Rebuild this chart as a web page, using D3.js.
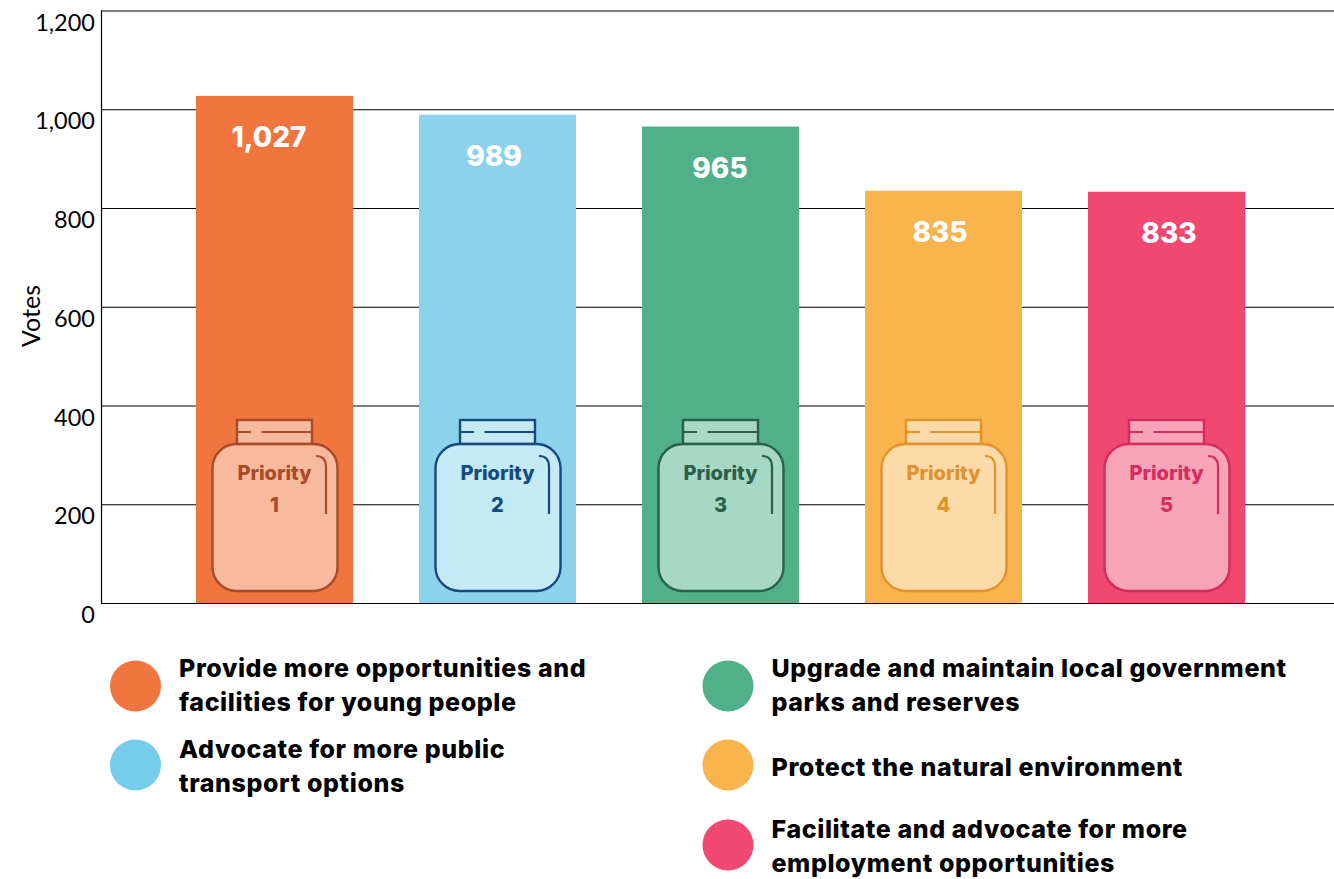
<!DOCTYPE html>
<html>
<head>
<meta charset="utf-8">
<script src="https://cdn.jsdelivr.net/npm/d3@7"></script>
<style>
    html, body { margin: 0; padding: 0; background: #fff; overflow: hidden; }
    text { font-family: "Inter", "Lato", sans-serif; fill: #000; }
    .domain { display: none; }
</style>
</head>
<body>
<svg id="chart" width="1334" height="879"></svg>
<script>
var priorities = ["1", "2", "3", "4", "5"];
var votes = [1027, 989, 965, 835, 833];
var bar_colors = ["#F1753E", "#8DD2EC", "#4FB08A", "#F9B44E", "#F04871"];
var jar_colors = ["#A94A28", "#134B7F", "#2A6049", "#E0922E", "#D42C5E"];
var y_ticks = [0, 200, 400, 600, 800, 1000, 1200];

var legend_colors = ["#F1753E", "#75CCEB", "#4FB08A", "#F9B44E", "#F04871"];
var legend_lines = [
    ["Provide more opportunities and", "facilities for young people"],
    ["Advocate for more public", "transport options"],
    ["Upgrade and maintain local government", "parks and reserves"],
    ["Protect the natural environment"],
    ["Facilitate and advocate for more", "employment opportunities"]
];

var svg = d3.select("#chart");

var x = d3.scaleBand()
    .domain(priorities)
    .range([101, 1340])
    .paddingInner(0.296)
    .paddingOuter(0.426);

var y = d3.scaleLinear().domain([0, 1200]).range([603, 10.5]);

// gridlines + tick labels
var y_axis = svg.append("g")
    .attr("transform", "translate(101,0)")
    .call(d3.axisLeft(y).tickValues(y_ticks).tickSize(-1233).tickPadding(6).tickFormat(d3.format(",")));

y_axis.selectAll("line").attr("stroke", "#000").attr("stroke-width", 1.2);
y_axis.selectAll("text")
    .attr("dy", null)
    .attr("y", 19.5)
    .style("font-size", "23.5px")
    .style("font-family", "Lato, sans-serif");

svg.append("line")
    .attr("x1", 101.5).attr("x2", 101.5)
    .attr("y1", y(1200)).attr("y2", y(0))
    .attr("stroke", "#000").attr("stroke-width", 1.2);

svg.append("text")
    .attr("transform", "translate(40,316) rotate(-90)")
    .attr("text-anchor", "middle")
    .style("font-size", "25px")
    .style("font-family", "Lato, sans-serif")
    .text("Votes");

var data = priorities.map(function (p, i) {
    return { priority: p, votes: votes[i], color: bar_colors[i], jar: jar_colors[i] };
});

svg.selectAll("rect.bar")
    .data(data)
    .enter().append("rect")
    .attr("class", "bar")
    .attr("x", d => x(d.priority))
    .attr("y", d => y(d.votes))
    .attr("width", x.bandwidth())
    .attr("height", d => y(0) - y(d.votes))
    .attr("fill", d => d.color);

// value labels are not quite centred on the bars in the original
var label_nudge = [-5.5, -3.5, -0.5, -3.5, 2.5];

svg.selectAll("text.value")
    .data(data)
    .enter().append("text")
    .attr("class", "value")
    .attr("x", (d, i) => x(d.priority) + x.bandwidth() / 2 + label_nudge[i])
    .attr("y", d => y(d.votes) + 51)
    .attr("text-anchor", "middle")
    .style("font-size", "28px")
    .style("font-weight", 800)
    .style("fill", "#fff")
    .text(d => d3.format(",")(d.votes));

// jar drawn relative to its bar
var jar = svg.selectAll("g.jar")
    .data(data)
    .enter().append("g")
    .attr("class", "jar")
    .attr("transform", d => "translate(" + x(d.priority) + "," + y(0) + ")");

jar.append("rect")
    .attr("x", 41).attr("y", -183).attr("width", 75).attr("height", 24)
    .attr("fill", "#fff").attr("fill-opacity", 0.5)
    .attr("stroke", d => d.jar).attr("stroke-width", 2.4);

jar.append("path")
    .attr("d", "M41,-171H55M65.5,-171H116")
    .attr("fill", "none")
    .attr("stroke", d => d.jar).attr("stroke-width", 2.2);

jar.append("rect")
    .attr("x", 16.5).attr("y", -159).attr("width", 125).attr("height", 147).attr("rx", 24)
    .attr("fill", "#fff").attr("fill-opacity", 0.5)
    .attr("stroke", d => d.jar).attr("stroke-width", 2.4);

jar.append("path")
    .attr("d", "M120,-147Q130,-147 130,-136V-89")
    .attr("fill", "none")
    .attr("stroke", d => d.jar).attr("stroke-width", 2.2);

jar.append("text")
    .attr("x", 78.5).attr("y", -123)
    .attr("text-anchor", "middle")
    .style("font-size", "20px")
    .style("font-weight", 800)
    .style("fill", d => d.jar)
    .text("Priority");

jar.append("text")
    .attr("x", 78.5).attr("y", -91)
    .attr("text-anchor", "middle")
    .style("font-size", "20px")
    .style("font-weight", 800)
    .style("fill", d => d.jar)
    .text(d => d.priority);

// legend, two columns
var legend_pos = [[135.5, 686], [135.5, 765], [728, 686], [728, 765], [728, 845]];
var legend_baseline = [677, 758, 677, 776, 838];

var legend = svg.selectAll("g.legend")
    .data(legend_lines)
    .enter().append("g")
    .attr("class", "legend");

legend.append("circle")
    .attr("cx", (d, i) => legend_pos[i][0])
    .attr("cy", (d, i) => legend_pos[i][1])
    .attr("r", 25.5)
    .attr("fill", (d, i) => legend_colors[i]);

legend.each(function (lines, i) {
    d3.select(this).selectAll("text")
        .data(lines)
        .enter().append("text")
        .attr("x", legend_pos[i][0] + 43.5)
        .attr("y", (d, j) => legend_baseline[i] + j * 34)
        .style("font-size", "25px")
        .style("font-weight", 800)
        .style("letter-spacing", "0.6px")
        .text(d => d);
});
</script>
</body>
</html>
